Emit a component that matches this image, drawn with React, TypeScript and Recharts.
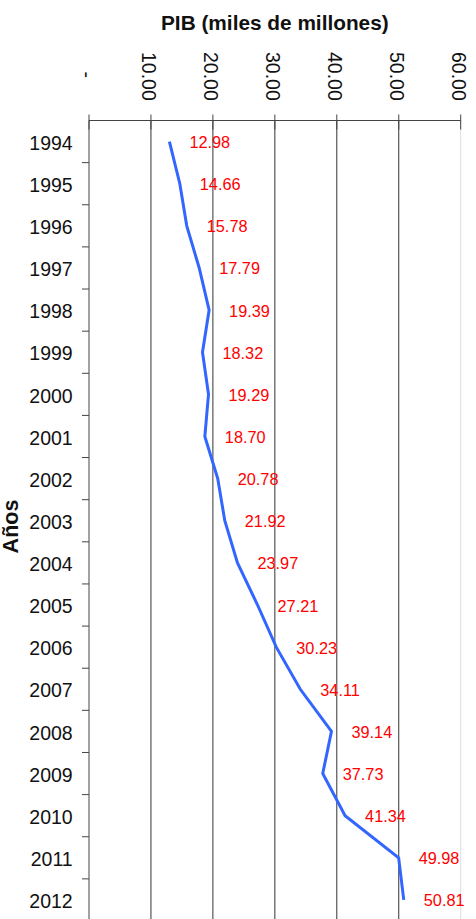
import React from "react";
import { LineChart, Line, XAxis, YAxis, ReferenceLine, LabelList, Label } from "recharts";

const years = ["1994","1995","1996","1997","1998","1999","2000","2001","2002","2003","2004","2005","2006","2007","2008","2009","2010","2011","2012"];
const pib = [12.98,14.66,15.78,17.79,19.39,18.32,19.29,18.70,20.78,21.92,23.97,27.21,30.23,34.11,39.14,37.73,41.34,49.98,50.81];
const xTicks = [0,10,20,30,40,50,60];
const gridValues = [10,20,30,40,50];

const data = years.map((y, i) => ({ year: y, pib: pib[i] }));

const FONT = "'Liberation Sans', Arial, Helvetica, sans-serif";
const CHART_W = 476;
const CHART_H = 940;
const MARGIN = { top: 0, right: 15.3, left: 0, bottom: 19 };
const X_AXIS_H = 120.5;
const Y_AXIS_W = 89;
const AXIS_COLOR = "#444";

const XTick = (props: any) => {
  const { x, y, payload } = props;
  const v = payload.value as number;
  const label = v === 0 ? "-" : v.toFixed(2);
  const startY = v === 0 ? 71.5 : 52;
  return (
    <g>
      <line x1={x} y1={y - 6} x2={x} y2={y + 9} stroke={AXIS_COLOR} strokeWidth={1} />
      <g transform={`translate(${x},${startY}) rotate(90)`}>
        <text x={0} y={8.7} textAnchor="start" fontFamily={FONT} fontSize={19.5} fill="#111">
          {label}
        </text>
      </g>
    </g>
  );
};

const YTick = (props: any) => {
  const { x, y, payload } = props;
  const plotH = CHART_H - MARGIN.top - MARGIN.bottom - X_AXIS_H;
  const half = payload && typeof payload.offset === "number" && payload.offset > 0 ? payload.offset : plotH / years.length / 2;
  return (
    <g>
      <text x={x - 16.3} y={y + 8.2} textAnchor="end" fontFamily={FONT} fontSize={19.5} fill="#111">
        {payload.value}
      </text>
      <line x1={x - 7} y1={y + half} x2={x} y2={y + half} stroke={AXIS_COLOR} strokeWidth={1} />
    </g>
  );
};

const ValueLabel = (props: any) => {
  const { x, y, value } = props;
  return (
    <text x={x + 20} y={y + 6.5} textAnchor="start" fontFamily={FONT} fontSize={16.3} fill="#ff0000">
      {Number(value).toFixed(2)}
    </text>
  );
};

export default function App() {
  return (
    <div style={{ position: "fixed", left: 0, top: 0, width: 476, height: 919, overflow: "hidden", background: "#fff" }}>
      <LineChart width={CHART_W} height={CHART_H} data={data} layout="vertical" margin={MARGIN}>
        {gridValues.map((g) => (
          <ReferenceLine key={g} x={g} stroke="#333" strokeWidth={1} />
        ))}
        <ReferenceLine x={60} stroke="#dddddd" strokeWidth={1} />
        <XAxis
          type="number"
          orientation="top"
          domain={[0, 60]}
          ticks={xTicks}
          interval={0}
          height={X_AXIS_H}
          tickSize={0}
          tickMargin={0}
          tickLine={false}
          axisLine={{ stroke: AXIS_COLOR, strokeWidth: 1 }}
          tick={<XTick />}
          allowDataOverflow
        >
          <Label
            content={(p: any) => {
              const vb = p.viewBox || { x: Y_AXIS_W, width: 371.7 };
              return (
                <text x={vb.x + vb.width / 2} y={30} textAnchor="middle" fontFamily={FONT} fontWeight="bold" fontSize={20.8} fill="#111">
                  PIB (miles de millones)
                </text>
              );
            }}
          />
        </XAxis>
        <YAxis
          type="category"
          dataKey="year"
          scale="band"
          width={Y_AXIS_W}
          interval={0}
          tickSize={0}
          tickMargin={0}
          tickLine={false}
          axisLine={{ stroke: AXIS_COLOR, strokeWidth: 1 }}
          tick={<YTick />}
        >
          <Label
            content={() => (
              <g transform={`translate(0,526.5) rotate(-90)`}>
                <text x={0} y={18} textAnchor="middle" fontFamily={FONT} fontWeight="bold" fontSize={21.5} fill="#111">
                  Años
                </text>
              </g>
            )}
          />
        </YAxis>
        <Line
          type="linear"
          dataKey="pib"
          stroke="#3366ff"
          strokeWidth={3}
          dot={false}
          isAnimationActive={false}
        >
          <LabelList dataKey="pib" content={<ValueLabel />} />
        </Line>
      </LineChart>
    </div>
  );
}
